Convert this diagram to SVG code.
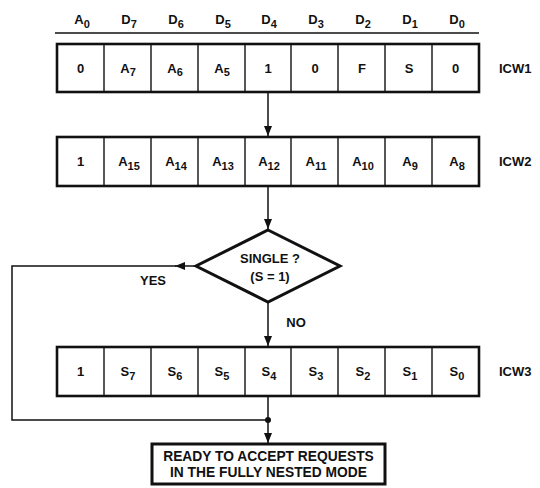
<svg xmlns="http://www.w3.org/2000/svg" width="540" height="488" viewBox="0 0 540 488">
<style>
text{font-family:"Liberation Sans",Arial,sans-serif;font-weight:bold;font-size:13px;fill:#111;text-anchor:middle}
.lbl{text-anchor:start}
.row{fill:#fff;stroke:#111;stroke-width:2.6}
.div{stroke:#111;stroke-width:1.4}
.con{fill:none;stroke:#111;stroke-width:1.5}
.sub{font-size:11px}
.big{font-size:13.8px}
</style>
<defs>
<marker id="ah" markerUnits="userSpaceOnUse" markerWidth="10" markerHeight="8" refX="10" refY="4" orient="auto">
<path d="M0,0 L10,4 L0,8 z" fill="#111"/>
</marker>
</defs>
<g id="header">
<line x1="55" y1="33" x2="479" y2="33" stroke="#111" stroke-width="1.5"/>
<text x="82" y="24">A<tspan class="sub" dy="3.5">0</tspan></text>
<text x="129" y="24">D<tspan class="sub" dy="3.5">7</tspan></text>
<text x="176" y="24">D<tspan class="sub" dy="3.5">6</tspan></text>
<text x="223" y="24">D<tspan class="sub" dy="3.5">5</tspan></text>
<text x="269" y="24">D<tspan class="sub" dy="3.5">4</tspan></text>
<text x="316" y="24">D<tspan class="sub" dy="3.5">3</tspan></text>
<text x="363" y="24">D<tspan class="sub" dy="3.5">2</tspan></text>
<text x="410" y="24">D<tspan class="sub" dy="3.5">1</tspan></text>
<text x="457" y="24">D<tspan class="sub" dy="3.5">0</tspan></text>
</g>
<g id="icw1">
<rect class="row" x="57" y="44" width="422" height="48"/>
<path class="div" d="M104,44V92M151,44V92M198,44V92M245,44V92M291,44V92M338,44V92M385,44V92M432,44V92"/>
<text x="80.5" y="72.5">0</text>
<text x="128" y="72.5">A<tspan class="sub" dy="3.5">7</tspan></text>
<text x="175" y="72.5">A<tspan class="sub" dy="3.5">6</tspan></text>
<text x="222" y="72.5">A<tspan class="sub" dy="3.5">5</tspan></text>
<text x="268" y="72.5">1</text>
<text x="315" y="72.5">0</text>
<text x="362" y="72.5">F</text>
<text x="409" y="72.5">S</text>
<text x="455.5" y="72.5">0</text>
<text class="lbl" x="499" y="72.5">ICW1</text>
</g>
<g id="icw2">
<rect class="row" x="57" y="137" width="422" height="49"/>
<path class="div" d="M104,137V186M151,137V186M198,137V186M245,137V186M291,137V186M338,137V186M385,137V186M432,137V186"/>
<text x="80.5" y="166">1</text>
<text x="129" y="166">A<tspan class="sub" dy="3.5">15</tspan></text>
<text x="176" y="166">A<tspan class="sub" dy="3.5">14</tspan></text>
<text x="223" y="166">A<tspan class="sub" dy="3.5">13</tspan></text>
<text x="269" y="166">A<tspan class="sub" dy="3.5">12</tspan></text>
<text x="316" y="166">A<tspan class="sub" dy="3.5">11</tspan></text>
<text x="363" y="166">A<tspan class="sub" dy="3.5">10</tspan></text>
<text x="410" y="166">A<tspan class="sub" dy="3.5">9</tspan></text>
<text x="457" y="166">A<tspan class="sub" dy="3.5">8</tspan></text>
<text class="lbl" x="499" y="166">ICW2</text>
</g>
<g id="decision">
<path d="M268,230 L340,266 L268,302 L196,266 Z" fill="#fff" stroke="#111" stroke-width="3" stroke-linejoin="miter"/>
<text x="270" y="263">SINGLE ?</text>
<text x="270" y="281">(S = 1)</text>
</g>
<g id="icw3">
<rect class="row" x="57" y="347" width="422" height="49"/>
<path class="div" d="M104,347V396M151,347V396M198,347V396M245,347V396M291,347V396M338,347V396M385,347V396M432,347V396"/>
<text x="80.5" y="376">1</text>
<text x="128" y="376">S<tspan class="sub" dy="3.5">7</tspan></text>
<text x="175" y="376">S<tspan class="sub" dy="3.5">6</tspan></text>
<text x="222" y="376">S<tspan class="sub" dy="3.5">5</tspan></text>
<text x="269" y="376">S<tspan class="sub" dy="3.5">4</tspan></text>
<text x="316" y="376">S<tspan class="sub" dy="3.5">3</tspan></text>
<text x="363" y="376">S<tspan class="sub" dy="3.5">2</tspan></text>
<text x="410" y="376">S<tspan class="sub" dy="3.5">1</tspan></text>
<text x="457" y="376">S<tspan class="sub" dy="3.5">0</tspan></text>
<text class="lbl" x="499" y="376">ICW3</text>
</g>
<g id="ready">
<rect x="152" y="444" width="233" height="40" fill="#fff" stroke="#111" stroke-width="3"/>
<text class="big" x="268.5" y="461">READY TO ACCEPT REQUESTS</text>
<text class="big" x="268.5" y="477">IN THE FULLY NESTED MODE</text>
</g>
<g id="connectors">
<line class="con" x1="268" y1="93" x2="268" y2="136" marker-end="url(#ah)"/>
<line class="con" x1="268" y1="187" x2="268" y2="229" marker-end="url(#ah)"/>
<line class="con" x1="268" y1="303" x2="268" y2="346" marker-end="url(#ah)"/>
<line class="con" x1="195" y1="266" x2="175" y2="266" marker-end="url(#ah)"/>
<path class="con" d="M176,266 H12 V420 H268"/>
<line class="con" x1="268" y1="397" x2="268" y2="443" marker-end="url(#ah)"/>
<circle cx="268" cy="420" r="3" fill="#111"/>
<text x="153" y="285">YES</text>
<text x="296" y="327">NO</text>
</g>
</svg>
